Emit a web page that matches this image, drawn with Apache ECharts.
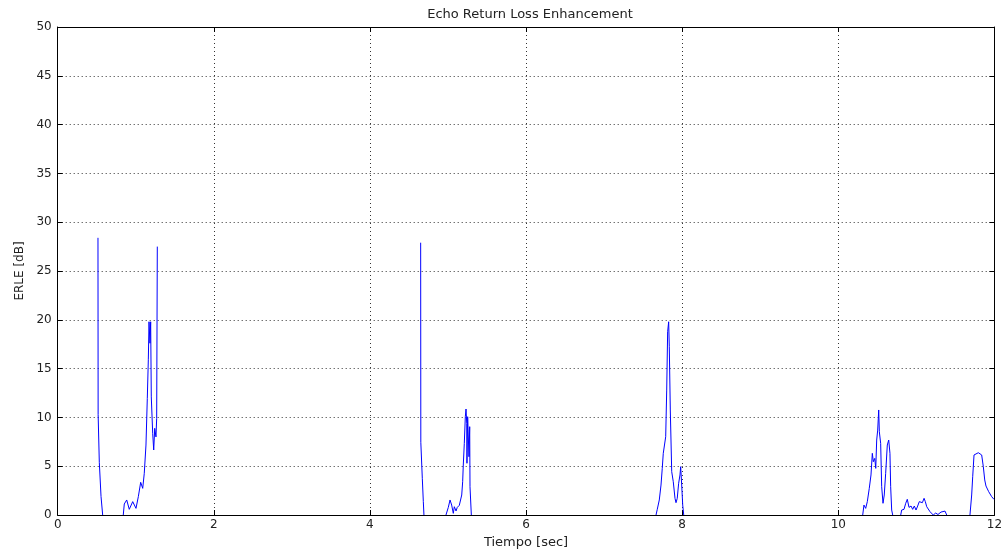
<!DOCTYPE html>
<html>
<head>
<meta charset="utf-8">
<script src="https://cdn.jsdelivr.net/npm/echarts@6/dist/echarts.min.js"></script>
<style>
  html, body { margin: 0; padding: 0; background: #fff; }
  #chart { width: 1005px; height: 552px; }
</style>
</head>
<body>
<div id="chart"></div>
<script>
// ERLE trace, one array per active stretch: [time (s), ERLE (dB)]
const segA = [[0.516,28.4],[0.518,10.3],[0.533,5.4],[0.555,1.9],[0.576,0]];
const segB = [[0.840,0],[0.853,1.13],[0.884,1.54],[0.917,0.58],[0.961,1.37],[1.003,0.68],
  [1.033,1.88],[1.063,3.35],[1.089,2.73],[1.109,4.27],[1.131,7.17],[1.148,11.95],
  [1.161,15.9],[1.170,19.8],[1.182,17.6],[1.191,19.8],[1.199,12.1],[1.217,8.37],
  [1.230,6.66],[1.243,8.88],[1.259,8.0],[1.268,9.9],[1.276,27.5]];
const segC = [[4.650,27.9],[4.652,7.45],[4.671,3.76],[4.684,1.37],[4.692,0]];
const segD = [[4.974,0],[5.004,0.78],[5.026,1.54],[5.047,1.02],[5.068,0.17],[5.081,0.85],
  [5.103,0.41],[5.119,0.78],[5.145,0.99],[5.167,0.99],[5.176,2.05],[5.188,3.41],
  [5.196,5.12],[5.209,7.34],[5.222,10.07],[5.231,10.86],[5.240,9.39],[5.243,5.3],
  [5.252,10.07],[5.260,10.25],[5.269,5.97],[5.278,9.05],[5.282,2.9],[5.299,0]];
const segE = [[7.665,0],[7.681,0.58],[7.707,1.54],[7.729,3.07],[7.745,4.78],[7.758,6.32],
  [7.776,6.49],[7.789,8.02],[7.802,12.8],[7.814,18.78],[7.827,19.8],[7.835,17.24],
  [7.848,10.76],[7.866,4.44],[7.886,3.41],[7.908,1.71],[7.921,1.26],[7.937,1.71],
  [7.955,3.25],[7.972,4.1],[7.981,4.95],[7.994,3.07],[8.007,1.02],[8.020,0]];
const segF = [[10.313,0],[10.329,1.02],[10.351,0.68],[10.372,1.37],[10.397,2.73],[10.419,4.1],
  [10.436,6.32],[10.449,5.46],[10.467,5.8],[10.480,4.78],[10.492,7.68],[10.505,8.7],
  [10.518,10.76],[10.526,8.53],[10.543,7.34],[10.556,2.9],[10.573,1.2],[10.589,2.05],
  [10.607,4.27],[10.628,7.17],[10.646,7.68],[10.662,6.32],[10.671,2.9],[10.684,0.51],[10.697,0]];
const segG = [[10.800,0],[10.812,0.51],[10.842,0.58],[10.864,1.2],[10.884,1.61],[10.906,0.78],
  [10.932,0.92],[10.953,0.58],[10.974,0.92],[10.996,0.51],[11.017,0.92],[11.038,1.37],
  [11.056,1.47],[11.077,1.26],[11.099,1.71],[11.115,1.37],[11.133,0.85],[11.153,0.68],
  [11.175,0.34],[11.197,0.17],[11.217,0],[11.248,0.2],[11.277,0.05],[11.316,0.3],
  [11.341,0.1],[11.367,0.4],[11.389,0]];
const segH = [[11.687,0],[11.709,2.05],[11.722,3.92],[11.739,6.15],[11.764,6.25],[11.794,6.38],
  [11.816,6.49],[11.837,6.15],[11.858,4.95],[11.876,3.59],[11.892,2.97],[11.909,2.9],
  [11.927,2.39],[11.943,2.22],[11.965,1.88],[11.995,1.6]];

const segments = [segA, segB, segC, segD, segE, segF, segG, segH];

const xTicks = [0, 2, 4, 6, 8, 10, 12];
const yTicks = [0, 5, 10, 15, 20, 25, 30, 35, 40, 45, 50];

// join the stretches with null breaks so the gaps stay empty
const trace = [];
segments.forEach((s, i) => {
  if (i > 0) trace.push([null, null]);
  s.forEach(p => trace.push(p));
});

const FONT = 'DejaVu Sans, Verdana, sans-serif';
const ink = '#000';
const labelInk = '#222';

const chart = echarts.init(document.getElementById('chart'), null, { renderer: 'canvas' });

const baseX = {
  type: 'value', min: 0, max: 12, interval: 2,
  axisLine: { show: true, onZero: false, lineStyle: { color: ink, width: 1 } },
  axisTick: { show: true, inside: true, length: 5, lineStyle: { color: ink } },
  splitLine: { show: false }
};
const baseY = {
  type: 'value', min: 0, max: 50, interval: 5,
  axisLine: { show: true, onZero: false, lineStyle: { color: ink, width: 1 } },
  axisTick: { show: true, inside: true, length: 5, lineStyle: { color: ink } },
  splitLine: { show: false }
};

chart.setOption({
  animation: false,
  backgroundColor: '#fff',
  title: {
    text: 'Echo Return Loss Enhancement',
    left: 525, top: 3, textAlign: 'center',
    textStyle: { fontFamily: FONT, fontSize: 13, fontWeight: 'normal', color: labelInk }
  },
  grid: {
    left: 57.7, right: 10.6, top: 27, bottom: 37,
    containLabel: false, outerBoundsMode: 'none'
  },
  xAxis: [
    Object.assign({}, baseX, {
      position: 'bottom',
      name: 'Tiempo [sec]', nameLocation: 'middle', nameGap: 18,
      nameTextStyle: { fontFamily: FONT, fontSize: 13, color: labelInk },
      axisLabel: {
        show: true, margin: 4, fontFamily: FONT, fontSize: 12, color: labelInk,
        customValues: xTicks
      },
      splitLine: { show: true, lineStyle: { color: '#333', type: [1, 3], width: 1 } }
    }),
    Object.assign({}, baseX, { position: 'top', axisLabel: { show: false } })
  ],
  yAxis: [
    Object.assign({}, baseY, {
      position: 'left',
      name: 'ERLE [dB]', nameLocation: 'middle', nameGap: 30, nameRotate: 90,
      nameTextStyle: { fontFamily: FONT, fontSize: 12, color: labelInk },
      axisLabel: {
        show: true, margin: 6, fontFamily: FONT, fontSize: 12, color: labelInk,
        customValues: yTicks
      },
      splitLine: { show: true, lineStyle: { color: '#333', type: [1, 3], width: 1 } }
    }),
    Object.assign({}, baseY, { position: 'right', axisLabel: { show: false } })
  ],
  series: [{
    type: 'line',
    data: trace,
    xAxisIndex: 0, yAxisIndex: 0,
    showSymbol: false,
    connectNulls: false,
    clip: true,
    lineStyle: { color: '#0000ff', width: 1 },
    z: 1
  }]
});
</script>
</body>
</html>
